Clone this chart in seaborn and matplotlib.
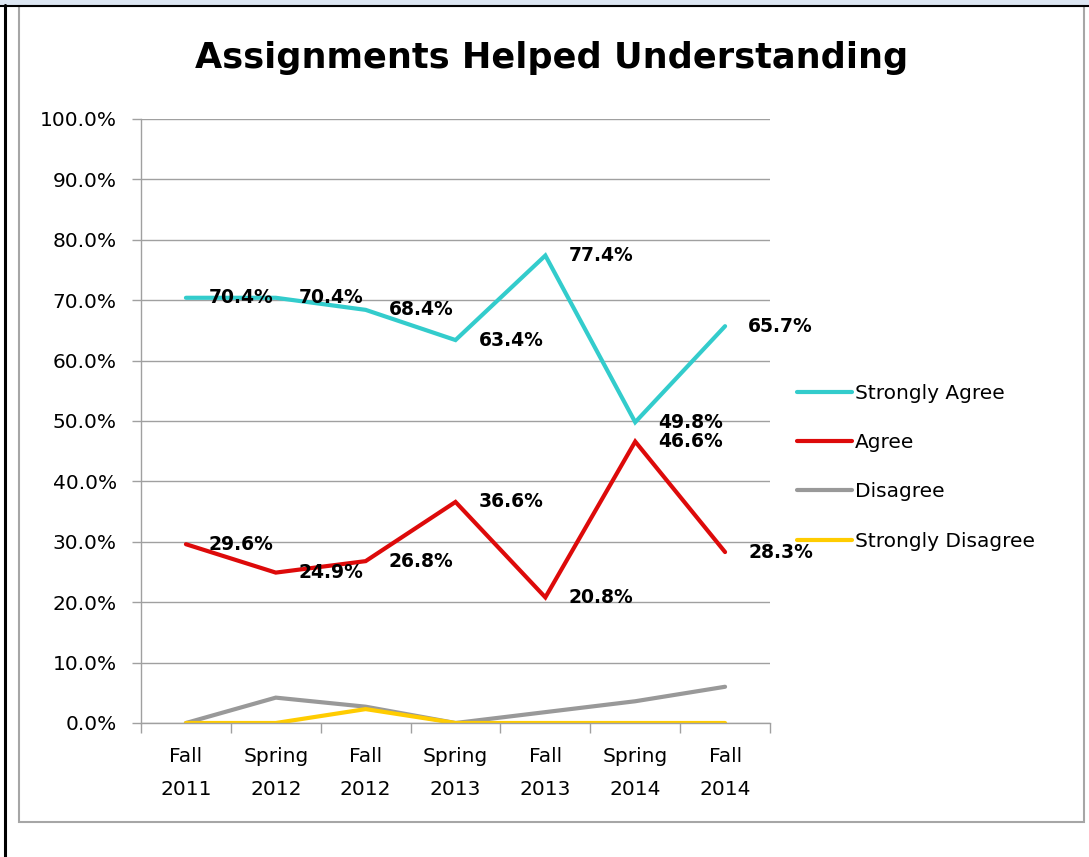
import matplotlib
matplotlib.use("Agg")
import matplotlib.pyplot as plt
import seaborn as sns
import pandas as pd
from matplotlib.patches import Rectangle
from matplotlib.lines import Line2D
from matplotlib.ticker import FixedLocator

# ---- data ----
terms = ["Fall\n2011", "Spring\n2012", "Fall\n2012", "Spring\n2013", "Fall\n2013", "Spring\n2014", "Fall\n2014"]
strongly_agree = [70.4, 70.4, 68.4, 63.4, 77.4, 49.8, 65.7]
agree = [29.6, 24.9, 26.8, 36.6, 20.8, 46.6, 28.3]
disagree = [0.0, 4.2, 2.7, 0.0, 1.8, 3.6, 6.0]
strongly_disagree = [0.0, 0.0, 2.3, 0.0, 0.0, 0.0, 0.0]
series_names = ["Strongly Agree", "Agree", "Disagree", "Strongly Disagree"]
series_values = [strongly_agree, agree, disagree, strongly_disagree]
labeled_series = ["Strongly Agree", "Agree"]
colors = ["#33CCCC", "#DD0A0A", "#999999", "#FFCC00"]
title = "Assignments Helped Understanding"

rows = []
for name, vals in zip(series_names, series_values):
    for t, v in zip(terms, vals):
        rows.append({"Term": t, "Value": v, "Series": name})
df = pd.DataFrame(rows)

sns.set_theme(style="white")
plt.rcParams["font.family"] = ["DejaVu Sans"]

W, H = 1089, 857
fig = plt.figure(figsize=(W / 100, H / 100), dpi=100)
fig.patch.set_facecolor("white")

def fx(x): return x / W
def fy(y): return 1 - y / H

# outer decorations
fig.patches.append(Rectangle((0, fy(5)), 1, 5 / H, transform=fig.transFigure,
                             facecolor="#DCE6F2", edgecolor="none", zorder=0))
fig.add_artist(Line2D([0, 1], [fy(5.5), fy(5.5)], transform=fig.transFigure, color="black", lw=1.5))
fig.add_artist(Line2D([fx(4.5), fx(4.5)], [0, fy(5)], transform=fig.transFigure, color="black", lw=2.2))
fig.patches.append(Rectangle((fx(18.5), fy(822)), fx(1084 - 18.5), (822 - 6) / H, transform=fig.transFigure,
                             facecolor="none", edgecolor="#A6A6A6", lw=1.5, zorder=0))

ax = fig.add_axes([fx(141), fy(723), fx(770 - 141), (723 - 119) / H])
ax.set_facecolor("white")

sns.lineplot(data=df, x="Term", y="Value", hue="Series", hue_order=series_names,
             palette=colors, linewidth=3.0, ax=ax, legend=False, sort=False)
for ln in ax.lines:
    ln.set_solid_capstyle("round")
    ln.set_solid_joinstyle("miter")

ax.set_xlim(-0.5, len(terms) - 0.5)
ax.set_ylim(0, 100)
ax.set_xlabel("")
ax.set_ylabel("")

ax.set_yticks([i * 10 for i in range(11)])
ax.set_yticklabels([f"{i * 10:.1f}%" for i in range(11)], fontsize=14.5, color="black")
ax.yaxis.grid(True, color="#A0A0A0", lw=1.0)
ax.xaxis.grid(False)
ax.set_axisbelow(True)
ax.tick_params(axis="y", length=6.5, width=1.0, color="#A0A0A0", pad=11, left=True)

ax.set_xticks(range(len(terms)))
ax.set_xticklabels(terms, fontsize=14.5, linespacing=1.95, color="black")
ax.xaxis.set_minor_locator(FixedLocator([i - 0.5 for i in range(len(terms) + 1)]))
ax.tick_params(axis="x", which="major", length=0, pad=17)
ax.tick_params(axis="x", which="minor", length=7, width=1.0, color="#A0A0A0", bottom=True)

for s in ["top", "right"]:
    ax.spines[s].set_visible(False)
for s in ["left", "bottom"]:
    ax.spines[s].set_color("#A0A0A0")
    ax.spines[s].set_linewidth(1.0)

# data labels
for name, vals in zip(series_names, series_values):
    if name not in labeled_series:
        continue
    for i, v in enumerate(vals):
        ax.annotate(f"{v:.1f}%", xy=(i, v), xytext=(23, 0), textcoords="offset pixels",
                    ha="left", va="center", fontsize=13.5, fontweight="bold", color="black",
                    annotation_clip=False, zorder=5)

# title
fig.text(fx(552), fy(58), title, ha="center", va="center", fontsize=25.3, fontweight="bold", color="black")

# legend
handles = [Line2D([0], [0], color=c, lw=3.0, solid_capstyle="round") for c in colors]
leg = fig.legend(handles, series_names, loc="upper left", bbox_to_anchor=(fx(797), fy(384)),
                 frameon=False, fontsize=14.5, handlelength=2.75, handletextpad=0.12,
                 labelspacing=1.5, borderaxespad=0, borderpad=0, labelcolor="black")

fig.savefig("out.png", dpi=100, facecolor="white")
